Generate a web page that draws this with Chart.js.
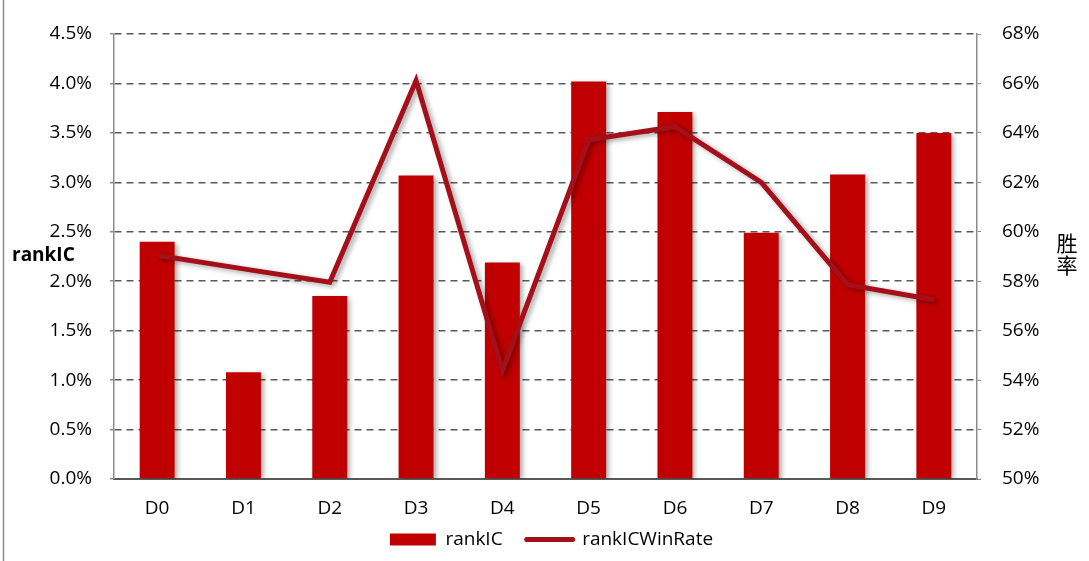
<!DOCTYPE html>
<html>
<head>
<meta charset="utf-8">
<script src="https://cdn.jsdelivr.net/npm/chart.js@4/dist/chart.umd.min.js"></script>
<style>
  html, body { margin: 0; padding: 0; background: #fff; }
  #wrap { position: relative; width: 1089px; height: 561px; }
</style>
</head>
<body>
<div id="wrap"><canvas id="c" width="1089" height="561"></canvas></div>
<script>
const categories = ['D0','D1','D2','D3','D4','D5','D6','D7','D8','D9'];
const rankIC = [0.0240, 0.0108, 0.0185, 0.0307, 0.0219, 0.0402, 0.0371, 0.0249, 0.0308, 0.0350];
const rankICWinRate = [0.5905, 0.585, 0.5796, 0.6612, 0.5438, 0.6372, 0.6425, 0.6200, 0.5786, 0.5725];
const leftTicks = [0, 0.005, 0.01, 0.015, 0.02, 0.025, 0.03, 0.035, 0.04, 0.045];
const rightTicks = [0.50, 0.52, 0.54, 0.56, 0.58, 0.60, 0.62, 0.64, 0.66, 0.68];
const leftTitle = 'rankIC';
const rightTitle = ['胜', '率'];

const FONT = '"Open Sans", "Noto Sans", sans-serif';
const BAR_COLOR = '#C00000';
const LINE_COLOR = '#A50F1A';

const shadowPlugin = {
  id: 'shadow',
  beforeDatasetDraw(chart, args) {
    const ctx = chart.ctx;
    ctx.save();
    ctx.shadowColor = 'rgba(0,0,0,0.35)';
    ctx.shadowBlur = 5;
    ctx.shadowOffsetX = 3;
    ctx.shadowOffsetY = 2;
  },
  afterDatasetDraw(chart) {
    chart.ctx.restore();
  }
};

const layoutFixPlugin = {
  id: 'layoutFix',
  afterLayout(chart) {
    // let x labels draw below the reduced axis box without being clipped
    chart.scales.x.bottom = chart.scales.x.top + 45;
  }
};

const decorPlugin = {
  id: 'decor',
  afterDraw(chart) {
    const ctx = chart.ctx;
    ctx.save();
    ctx.strokeStyle = '#8c8c8c';
    ctx.lineWidth = 1.5;
    ctx.beginPath();
    ctx.moveTo(3.5, 0);
    ctx.lineTo(3.5, 561);
    ctx.stroke();
    ctx.fillStyle = '#000';
    ctx.font = 'bold 19px ' + FONT;
    ctx.textAlign = 'left';
    ctx.textBaseline = 'middle';
    ctx.fillText(leftTitle, 12, 256);
    ctx.font = '21px "Noto Sans CJK SC", sans-serif';
    ctx.textAlign = 'center';
    ctx.fillText(rightTitle[0], 1067, 243);
    ctx.fillText(rightTitle[1], 1067, 265);
    ctx.restore();
  }
};

new Chart(document.getElementById('c'), {
  data: {
    labels: categories,
    datasets: [
      {
        type: 'line',
        label: 'rankICWinRate',
        data: rankICWinRate,
        yAxisID: 'y1',
        borderColor: LINE_COLOR,
        backgroundColor: LINE_COLOR,
        borderWidth: 5,
        pointRadius: 0,
        tension: 0,
        borderJoinStyle: 'miter',
        order: 0
      },
      {
        type: 'bar',
        label: 'rankIC',
        data: rankIC,
        yAxisID: 'y',
        backgroundColor: BAR_COLOR,
        borderWidth: 0,
        categoryPercentage: 1,
        barPercentage: 0.405,
        order: 1
      }
    ]
  },
  plugins: [shadowPlugin, layoutFixPlugin, decorPlugin],
  options: {
    responsive: false,
    animation: false,
    devicePixelRatio: 1,
    layout: { padding: { top: 34, left: 14, right: 0, bottom: 2 } },
    plugins: {
      tooltip: { enabled: false },
      legend: {
        position: 'bottom',
        labels: {
          font: { family: FONT, size: 19 },
          color: '#000',
          usePointStyle: true,
          pointStyleWidth: 46,
          boxHeight: 12,
          padding: 24,
          generateLabels(chart) {
            return [
              { text: 'rankIC', fillStyle: BAR_COLOR, strokeStyle: BAR_COLOR, lineWidth: 0, pointStyle: 'rect', datasetIndex: 1 },
              { text: 'rankICWinRate', fillStyle: LINE_COLOR, strokeStyle: LINE_COLOR, lineWidth: 5, lineCap: 'round', pointStyle: 'line', datasetIndex: 0 }
            ];
          }
        }
      }
    },
    scales: {
      x: {
        grid: { display: false, drawTicks: false },
        border: { display: true, color: '#595959', width: 2 },
        ticks: { font: { family: FONT, size: 19 }, color: '#000', padding: 18 },
        afterFit(s) { s.height = 27; }
      },
      y: {
        position: 'left',
        min: 0, max: 0.045,
        afterBuildTicks(s) { s.ticks = leftTicks.map(v => ({ value: v })); },
        afterFit(s) { s.width = 100; },
        grid: {
          color: '#595959', lineWidth: 1.5, drawTicks: true, tickLength: 4,
          tickColor: '#8c8c8c'
        },
        border: { display: true, color: '#8c8c8c', width: 1.5, dash: [7, 5] },
        ticks: {
          font: { family: FONT, size: 19 }, color: '#000', padding: 18,
          callback: v => (v * 100).toFixed(1) + '%'
        }
      },
      y1: {
        position: 'right',
        min: 0.50, max: 0.68,
        afterBuildTicks(s) { s.ticks = rightTicks.map(v => ({ value: v })); },
        afterFit(s) { s.width = 112; },
        grid: { drawOnChartArea: false, drawTicks: true, tickLength: 4, tickColor: '#8c8c8c' },
        border: { display: true, color: '#8c8c8c', width: 1.5 },
        ticks: {
          font: { family: FONT, size: 19 }, color: '#000', padding: 21,
          callback: v => Math.round(v * 100) + '%'
        }
      }
    }
  }
});
</script>
</body>
</html>
